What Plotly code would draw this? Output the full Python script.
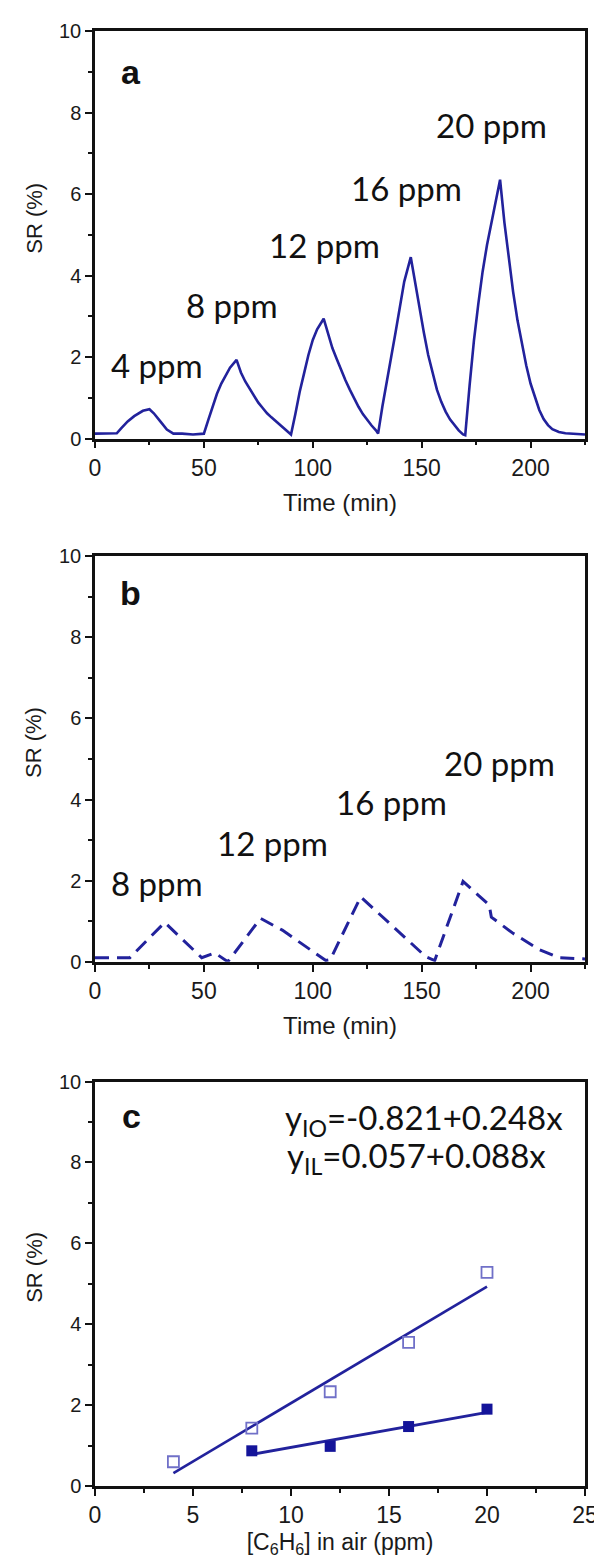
import plotly.graph_objects as go

# Panel a: sensor response (IO) vs time
time_a = [0, 5, 10, 12, 15, 18, 20, 22, 25, 27, 30, 33, 36, 40, 45, 50,
          52, 54, 56, 58, 60, 62, 65,
          67, 69, 71, 73, 75, 77, 79, 81, 83, 85, 87, 89, 90,
          92, 94, 96, 98, 100, 102, 105,
          107, 109, 111, 113, 115, 117, 119, 121, 123, 125, 127, 129, 130,
          132, 134, 136, 138, 140, 142, 145,
          147, 149, 151, 153, 155, 157, 159, 161, 163, 165, 167, 169, 170,
          172, 174, 176, 178, 180, 182, 184, 186,
          188, 190, 192, 194, 196, 198, 200, 202, 204, 206, 208, 210, 213, 216, 220, 225]
sr_a = [0.12, 0.12, 0.13, 0.25, 0.42, 0.55, 0.62, 0.68, 0.72, 0.62, 0.42, 0.22, 0.12, 0.12, 0.1, 0.12,
        0.45, 0.8, 1.1, 1.35, 1.56, 1.74, 1.93,
        1.62, 1.4, 1.22, 1.05, 0.88, 0.75, 0.62, 0.52, 0.43, 0.34, 0.24, 0.15, 0.1,
        0.6, 1.15, 1.6, 2.05, 2.42, 2.68, 2.94,
        2.55, 2.22, 1.95, 1.68, 1.43, 1.2, 0.98, 0.78, 0.6, 0.45, 0.32, 0.2, 0.12,
        0.8, 1.45, 2.0, 2.6, 3.25, 3.85, 4.45,
        3.8, 3.15, 2.6, 2.05, 1.6, 1.2, 0.9, 0.66, 0.47, 0.32, 0.2, 0.1, 0.08,
        1.3, 2.4, 3.3, 4.1, 4.75, 5.3, 5.85, 6.35,
        5.3, 4.45, 3.6, 2.9, 2.3, 1.8, 1.35, 1.0, 0.7, 0.48, 0.33, 0.23, 0.16, 0.13, 0.11, 0.1]

# Panel b: sensor response (IL) vs time
time_b = [0, 16, 32, 49, 55, 61, 76, 86, 106, 108, 122, 137, 152, 156, 169, 181, 182, 192, 204, 213, 225]
sr_b = [0.1, 0.1, 0.97, 0.1, 0.22, 0.0, 1.07, 0.78, 0.03, 0.05, 1.6, 0.85, 0.12, 0.03, 1.98, 1.4, 1.1, 0.7, 0.3, 0.1, 0.07]

# Panel c: calibration
conc_io = [4, 8, 12, 16, 20]
sr_io = [0.6, 1.43, 2.33, 3.55, 5.28]
conc_il = [8, 12, 16, 20]
sr_il = [0.87, 0.98, 1.47, 1.9]
fit_io_x = [4, 20]
fit_io_y = [0.32, 4.93]
fit_il_x = [8, 20]
fit_il_y = [0.78, 1.82]

labels_a = ["4 ppm", "8 ppm", "12 ppm", "16 ppm", "20 ppm"]
labels_a_x = [28.4, 63.1, 105.5, 143, 182]
labels_a_y = [1.81, 3.28, 4.74, 6.16, 7.7]
labels_b = ["8 ppm", "12 ppm", "16 ppm", "20 ppm"]
labels_b_x = [28.4, 81.6, 136, 185.7]
labels_b_y = [1.94, 2.92, 3.93, 4.89]

line_col = "#22229c"
xtick_font = dict(family="Liberation Sans, Arial", size=23, color="#1a1a1a")
ytick_font = dict(family="Liberation Sans, Arial", size=20, color="#1a1a1a")
xtitle_font = dict(family="Liberation Sans, Arial", size=24, color="#1a1a1a")
ytitle_font = dict(family="Liberation Sans, Arial", size=22, color="#1a1a1a")
ann_font = dict(family="Lato, Carlito, Calibri", size=33, color="#111")

fig = go.Figure()
fig.add_trace(go.Scatter(x=time_a, y=sr_a, mode="lines", line=dict(color=line_col, width=2.6),
                         xaxis="x", yaxis="y", showlegend=False))
fig.add_trace(go.Scatter(x=time_b, y=sr_b, mode="lines", line=dict(color=line_col, width=3, dash="14px,8px"),
                         xaxis="x2", yaxis="y2", showlegend=False))
fig.add_trace(go.Scatter(x=fit_io_x, y=fit_io_y, mode="lines", line=dict(color=line_col, width=2.6),
                         xaxis="x3", yaxis="y3", showlegend=False))
fig.add_trace(go.Scatter(x=fit_il_x, y=fit_il_y, mode="lines", line=dict(color=line_col, width=3),
                         xaxis="x3", yaxis="y3", showlegend=False))
fig.add_trace(go.Scatter(x=conc_io, y=sr_io, mode="markers",
                         marker=dict(symbol="square-open", size=11, color="#7070c8", line=dict(width=1.8, color="#7070c8")),
                         xaxis="x3", yaxis="y3", showlegend=False))
fig.add_trace(go.Scatter(x=conc_il, y=sr_il, mode="markers",
                         marker=dict(symbol="square", size=11, color="#14149a"),
                         xaxis="x3", yaxis="y3", showlegend=False))

def xax(rng, dtick, title, anchor, minor_dtick, standoff=15, tfont=xtitle_font):
    return dict(range=rng, dtick=dtick, tick0=0, anchor=anchor, showline=True, linewidth=2.5, linecolor="#111",
                mirror=True, ticks="outside", ticklen=7, tickwidth=2, tickcolor="#111",
                showgrid=False, zeroline=False, tickfont=xtick_font,
                title=dict(text=title, font=tfont, standoff=standoff),
                minor=dict(dtick=minor_dtick, ticks="outside", ticklen=4, tickwidth=2, tickcolor="#111"))

def yax(domain, anchor):
    return dict(range=[0, 10], dtick=2, domain=domain, anchor=anchor, showline=True, linewidth=2.5, linecolor="#111",
                mirror=True, ticks="outside", ticklen=7, tickwidth=2, tickcolor="#111",
                showgrid=False, zeroline=False, tickfont=ytick_font,
                minor=dict(dtick=1, ticks="outside", ticklen=4, tickwidth=2, tickcolor="#111"))

fig.update_layout(
    width=602, height=1560,
    margin=dict(l=87, r=14, t=18, b=82),
    paper_bgcolor="white", plot_bgcolor="white",
    xaxis=xax([0, 225], 50, "Time (min)", "y", 25),
    yaxis=yax([0.7199, 1.0], "x"),
    xaxis2=xax([0, 225], 50, "Time (min)", "y2", 25),
    yaxis2=yax([0.3603, 0.639], "x2"),
    xaxis3=xax([0, 25], 5, "[C<sub>6</sub>H<sub>6</sub>] in air (ppm)", "y3", 2.5, standoff=7,
               tfont=dict(family="Liberation Sans, Arial", size=23, color="#1a1a1a")),
    yaxis3=yax([0.0, 0.278], "x3"),
)

anns = []
for yref in ["y", "y2", "y3"]:
    anns.append(dict(text="SR (%)", x=-0.124, xref="paper", y=5.4, yref=yref, textangle=-90,
                     showarrow=False, font=ytitle_font, xanchor="center", yanchor="middle"))
for t, xv, yv in zip(labels_a, labels_a_x, labels_a_y):
    anns.append(dict(text=t, x=xv, y=yv, xref="x", yref="y", showarrow=False, font=ann_font))
for t, xv, yv in zip(labels_b, labels_b_x, labels_b_y):
    anns.append(dict(text=t, x=xv, y=yv, xref="x2", yref="y2", showarrow=False, font=ann_font))
bold_font = dict(family="Liberation Sans, Arial", size=34, color="#111")
anns.append(dict(text="<b>a</b>", x=16.5, y=9.0, xref="x", yref="y", showarrow=False, font=bold_font))
anns.append(dict(text="<b>b</b>", x=16.5, y=9.09, xref="x2", yref="y2", showarrow=False, font=bold_font))
anns.append(dict(text="<b>c</b>", x=1.85, y=9.14, xref="x3", yref="y3", showarrow=False, font=bold_font))
anns.append(dict(text="y<sub>IO</sub>=-0.821+0.248x", x=24.0, y=9.06, xref="x3", yref="y3",
                 xanchor="right", showarrow=False, font=ann_font))
anns.append(dict(text="y<sub>IL</sub>=0.057+0.088x", x=23.1, y=8.13, xref="x3", yref="y3",
                 xanchor="right", showarrow=False, font=ann_font))
fig.update_layout(annotations=anns)

fig.write_html("out.html")
